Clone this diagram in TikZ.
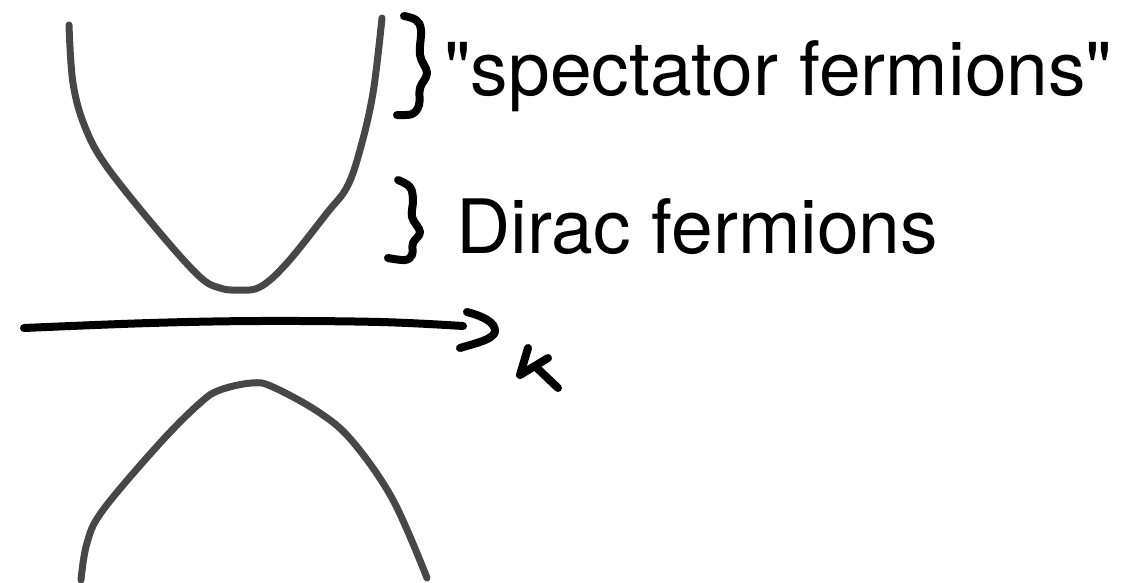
\documentclass[tikz,border=0pt]{standalone}
\usepackage{fontspec}
\newfontfamily\lblfont{TeX Gyre Heros}
\begin{document}
\begin{tikzpicture}[x=1pt,y=-1pt,
  band/.style={draw=black!72,line width=7pt,line cap=round,line join=round},
  ink/.style={draw=black,line width=8pt,line cap=round,line join=round},
  lbl/.style={anchor=base west,inner sep=0pt,font=\lblfont\fontsize{75}{80}\selectfont}]
\useasboundingbox (0,0) rectangle (1134,583);
% upper band
\draw[band] plot[smooth,tension=0.6] coordinates {(69,25) (73,83) (85,127) (107,167) (160,233) (200,277) (220,288) (237,290) (260,287) (287,263) (327,213) (347,187) (360,150) (373,93) (382,18)};
% lower band
\draw[band] plot[smooth,tension=0.6] coordinates {(81,580) (87,543) (103,510) (160,443) (200,403) (220,390) (252,383) (273,387) (320,413) (353,442) (393,500) (427,578)};
% axis
\coordinate (a0) at (24,328);
\coordinate (a1) at (463,326);
\draw[ink] plot[smooth,tension=0.6] coordinates {(a0) (150,323) (260,321) (380,322) (a1)};
\draw[ink] (467,312) .. controls (482,316) and (496,322) .. (495,332) .. controls (492,340) and (476,343) .. (460,348);
% k
\draw[ink] (528,348) -- (520,375) -- (548,358);
\draw[ink] (537,368) -- (558,388);
% braces
\draw[ink] plot[smooth,tension=0.6] coordinates {(404,16) (416,20) (421,30) (420,55) (427,73) (420,88) (419,105) (412,114) (397,115)};
\draw[ink] plot[smooth,tension=0.6] coordinates {(398,180) (410,187) (413,200) (412,217) (420,232) (413,243) (412,255) (405,260) (388,258)};
% labels
\node[lbl] (spec) at (444,96) {"spectator fermions"};
\node[lbl] (dirac) at (456,253) {Dirac fermions};
\end{tikzpicture}
\end{document}
